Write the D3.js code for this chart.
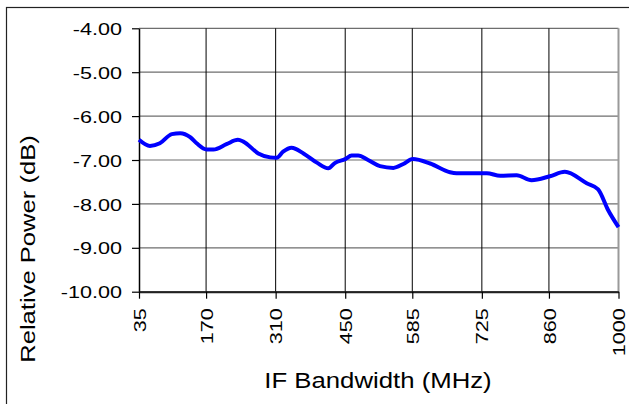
<!DOCTYPE html>
<html>
<head>
<meta charset="utf-8">
<script src="https://cdn.jsdelivr.net/npm/d3@7"></script>
<style>
  body { margin: 0; background: #fff; }
  text { font-family: "Liberation Sans", Arial, sans-serif; fill: #000; }
</style>
</head>
<body>
<svg id="chart" width="629" height="404"></svg>
<script>
// IF bandwidth (MHz) and relative power (dB)
const freqs = [35, 57, 77, 101, 118, 138, 151, 171, 185, 211, 234, 245, 275, 299, 312, 325, 342, 366, 393, 416,
  429, 450, 463, 476, 496, 520, 547, 567, 586, 621, 661, 674, 735, 762, 795, 825, 862, 892, 936, 959, 979, 1000];
const power = [-6.54, -6.68, -6.62, -6.41, -6.39, -6.48, -6.62, -6.76, -6.76, -6.64, -6.54, -6.58, -6.85, -6.94, -6.95, -6.81, -6.72, -6.85, -7.06, -7.19,
  -7.07, -6.98, -6.90, -6.90, -7.00, -7.14, -7.18, -7.09, -6.98, -7.08, -7.28, -7.30, -7.30, -7.36, -7.35, -7.46, -7.37, -7.27, -7.53, -7.67, -8.14, -8.53];
const xTicks = [35, 170, 310, 450, 585, 725, 860, 1000];
const yTicks = [-4, -5, -6, -7, -8, -9, -10];

const svg = d3.select('#chart');
const plotL = 139, plotR = 618.5, plotT = 28.3, plotB = 291.7;
const sx = 1.27; // text looks stretched along its baseline

// outer chart frame
svg.append('rect')
  .attr('x', 6.5).attr('y', 7.5)
  .attr('width', 640).attr('height', 420)
  .attr('fill', '#fff')
  .attr('stroke', '#222')
  .attr('stroke-width', 1.2);

const x = d3.scaleLinear().domain([35, 1000]).range([plotL, plotR]);
const y = d3.scaleLinear().domain([-10, -4]).range([plotB, plotT]);

// horizontal grid
svg.append('g').selectAll('line')
  .data(yTicks)
  .join('line')
  .attr('x1', plotL).attr('x2', plotR)
  .attr('y1', d => y(d)).attr('y2', d => y(d))
  .attr('stroke', '#6e6e6e')
  .attr('stroke-width', 1.2);

// vertical grid
svg.append('g').selectAll('line')
  .data(xTicks.slice(1, -1))
  .join('line')
  .attr('x1', d => x(d)).attr('x2', d => x(d))
  .attr('y1', plotT).attr('y2', plotB)
  .attr('stroke', '#000')
  .attr('stroke-width', 1);

// right edge of plot area
svg.append('line')
  .attr('x1', plotR).attr('x2', plotR)
  .attr('y1', plotT).attr('y2', plotB)
  .attr('stroke', '#9a9a9a')
  .attr('stroke-width', 2);

// y axis
const yAxis = svg.append('g')
  .attr('transform', `translate(${plotL},0)`)
  .call(d3.axisLeft(y).tickValues(yTicks).tickSize(7).tickSizeOuter(0).tickFormat(d => d.toFixed(2)));
yAxis.select('.domain').attr('stroke', '#000').attr('stroke-width', 1.5);
yAxis.selectAll('.tick line').attr('stroke', '#000').attr('stroke-width', 1.2);
yAxis.selectAll('.tick text')
  .attr('font-size', 17)
  .attr('font-family', '"Liberation Sans", Arial, sans-serif')
  .attr('x', -17 / sx)
  .attr('dy', '0.36em')
  .attr('transform', `scale(${sx},1)`);

// x axis
const xAxis = svg.append('g')
  .attr('transform', `translate(0,${plotB})`)
  .call(d3.axisBottom(x).tickValues(xTicks).tickSize(7).tickSizeOuter(0).tickFormat(d => String(d)));
xAxis.select('.domain').attr('stroke', '#222').attr('stroke-width', 2);
xAxis.selectAll('.tick line').attr('stroke', '#000').attr('stroke-width', 1.2);
xAxis.selectAll('.tick text')
  .attr('font-size', 17)
  .attr('font-family', '"Liberation Sans", Arial, sans-serif')
  .attr('x', 0).attr('y', 0)
  .attr('dy', '0.36em')
  .attr('text-anchor', 'end')
  .attr('transform', `translate(0,16.5) rotate(-90) scale(${sx},1)`);

// data line
const line = d3.line()
  .x((d, i) => x(freqs[i]))
  .y(d => y(d))
  .curve(d3.curveMonotoneX);

svg.append('path')
  .datum(power)
  .attr('d', line)
  .attr('fill', 'none')
  .attr('stroke', '#0000ff')
  .attr('stroke-width', 4)
  .attr('stroke-linejoin', 'round');

// axis titles
svg.append('text')
  .attr('transform', `translate(35,249) rotate(-90) scale(1.22,1)`)
  .attr('text-anchor', 'middle')
  .attr('font-size', 21)
  .text('Relative Power (dB)');

svg.append('text')
  .attr('transform', `translate(378,388) scale(1.17,1)`)
  .attr('text-anchor', 'middle')
  .attr('font-size', 22)
  .text('IF Bandwidth (MHz)');
</script>
</body>
</html>
